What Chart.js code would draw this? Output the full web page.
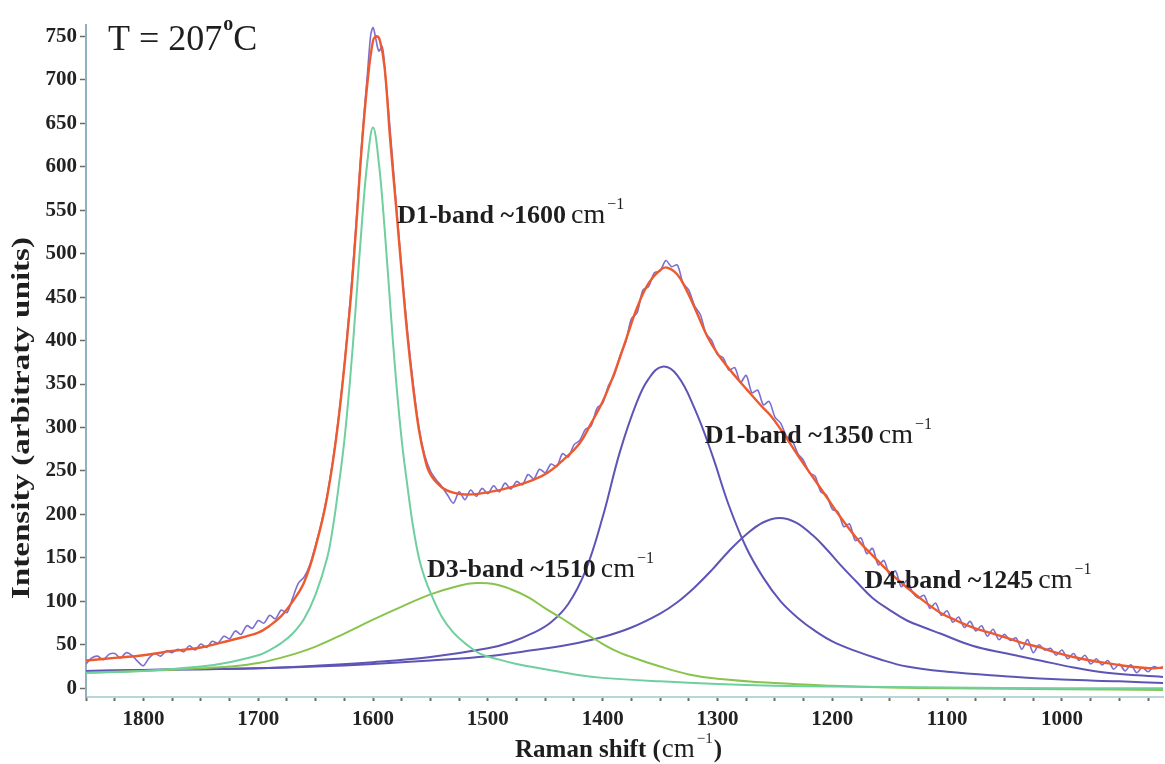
<!DOCTYPE html>
<html>
<head>
<meta charset="utf-8">
<script src="https://cdn.jsdelivr.net/npm/chart.js@4.4.1/dist/chart.umd.min.js"></script>
<style>
	body { margin: 0; background: #fff; }
	canvas { display: block; }
</style>
</head>
<body>
<canvas id="raman" width="1165" height="764"></canvas>
<script>
/* Data (Raman shift in cm-1, intensity in arbitrary units) */
var rawShift = [
	1850, 1845, 1840, 1835, 1830, 1825, 1820, 1815, 1810, 1805,
	1800, 1795, 1790, 1785, 1780, 1775, 1770, 1765, 1760, 1755,
	1750, 1745, 1740, 1735, 1730, 1725, 1720, 1715, 1710, 1705,
	1700, 1695, 1690, 1685, 1680, 1675, 1670, 1665, 1660, 1655,
	1650, 1645, 1640, 1635, 1630, 1625, 1620, 1615, 1610, 1605,
	1602, 1600, 1598, 1595, 1592, 1590, 1585, 1580, 1575, 1570,
	1565, 1560, 1555, 1550, 1545, 1540, 1535, 1530, 1525, 1520,
	1515, 1510, 1505, 1500, 1495, 1490, 1485, 1480, 1475, 1470,
	1465, 1460, 1455, 1450, 1445, 1440, 1435, 1430, 1425, 1420,
	1415, 1410, 1405, 1400, 1395, 1390, 1385, 1380, 1375, 1370,
	1365, 1360, 1355, 1350, 1345, 1340, 1335, 1330, 1325, 1320,
	1315, 1310, 1305, 1300, 1295, 1290, 1285, 1280, 1275, 1270,
	1265, 1260, 1255, 1250, 1245, 1240, 1235, 1230, 1225, 1220,
	1215, 1210, 1205, 1200, 1195, 1190, 1185, 1180, 1175, 1170,
	1165, 1160, 1155, 1150, 1145, 1140, 1135, 1130, 1125, 1120,
	1115, 1110, 1105, 1100, 1095, 1090, 1085, 1080, 1075, 1070,
	1065, 1060, 1055, 1050, 1045, 1040, 1035, 1030, 1025, 1020,
	1015, 1010, 1005, 1000, 995, 990, 985, 980, 975, 970,
	965, 960, 955, 950, 945, 940, 935, 930, 925, 920,
	915, 910
];
var rawIntensity = [
	28, 35, 37, 33, 39, 40, 35, 41, 38, 31,
	26, 35, 40, 37, 43, 41, 45, 42, 49, 44,
	51, 47, 54, 52, 60, 57, 66, 62, 72, 69,
	78, 75, 84, 80, 90, 87, 104, 121, 128, 142,
	165, 190, 222, 262, 312, 372, 445, 530, 625, 705,
	752, 760, 750, 733, 738, 716, 640, 560, 482, 410,
	350, 300, 268, 250, 240, 232, 222, 213, 226, 217,
	228, 221, 230, 224, 233, 226, 236, 229, 238, 234,
	246, 241, 252, 248, 258, 255, 270, 266, 280, 285,
	298, 302, 322, 328, 348, 360, 382, 398, 425, 432,
	458, 462, 478, 480, 492, 485, 487, 466, 458, 440,
	430, 408, 400, 384, 380, 366, 369, 352, 360, 340,
	343, 326, 330, 312, 305, 290, 285, 270, 262, 248,
	244, 226, 222, 206, 203, 186, 189, 170, 173, 155,
	161, 142, 147, 130, 135, 117, 124, 110, 104, 107,
	92, 98, 84, 89, 76, 82, 70, 77, 66, 72,
	60, 68, 56, 62, 55, 58, 45, 56, 41, 50,
	44, 46, 38, 44, 34, 40, 32, 38, 28, 34,
	27, 32, 22, 28, 20, 27, 18, 24, 19, 25,
	23, 26
];

var fitShift = [1850, 1825, 1800, 1775, 1750, 1725, 1700, 1690, 1680, 1670, 1660, 1650, 1640, 1630, 1620, 1615, 1610, 1605, 1600, 1597, 1594, 1590, 1585, 1580, 1575, 1570, 1565, 1560, 1555, 1550, 1540, 1530, 1520, 1507, 1490, 1478, 1460, 1448, 1435, 1420, 1410, 1400, 1390, 1380, 1370, 1360, 1350, 1344, 1335, 1327, 1318, 1309, 1300, 1289, 1274, 1262, 1254, 1245, 1237, 1227, 1217, 1205, 1193, 1176, 1165, 1150, 1135, 1120, 1106, 1092, 1078, 1063, 1048, 1034, 1019, 1005, 990, 975, 961, 946, 932, 920, 912];
var fitIntensity = [32, 35, 38, 43, 47, 55, 64, 72, 83, 100, 122, 163, 220, 310, 440, 525, 620, 695, 745, 750, 745, 715, 630, 555, 478, 405, 345, 297, 265, 246, 231, 225, 223, 224, 228, 232, 240, 248, 262, 282, 305, 330, 362, 400, 438, 466, 481, 484, 476, 458, 432, 405, 385, 366, 343, 325, 314, 298, 282, 262, 243, 220, 197, 168, 153, 133, 116, 100, 87, 78, 70, 64, 58, 52, 47, 41, 36, 32, 29, 26, 24, 23, 24];

/* Fitted bands */
var gShift = [1850, 1800, 1750, 1725, 1700, 1690, 1680, 1670, 1660, 1650, 1640, 1635, 1630, 1625, 1620, 1615, 1610, 1605, 1600, 1595, 1590, 1585, 1580, 1575, 1570, 1565, 1560, 1555, 1550, 1540, 1530, 1520, 1507, 1490, 1475, 1450, 1420, 1400, 1350, 1300, 1250, 1200, 1100, 1000, 912];
var gBand = [18, 20, 25, 30, 38, 44, 52, 63, 80, 108, 150, 185, 232, 285, 355, 440, 530, 605, 645, 605, 530, 440, 355, 285, 232, 185, 150, 127, 110, 82, 64, 52, 40, 33, 28, 22, 15, 12, 8, 5, 3, 2, 1, 0, 0];

var d3Shift = [1850, 1800, 1750, 1725, 1700, 1675, 1650, 1625, 1600, 1575, 1550, 1525, 1510, 1495, 1480, 1465, 1450, 1435, 1420, 1405, 1390, 1375, 1350, 1325, 1300, 1250, 1200, 1150, 1100, 1000, 912];
var d3Band = [18, 20, 23, 25, 29, 37, 48, 63, 79, 94, 108, 118, 121, 120, 114, 105, 92, 80, 67, 55, 44, 36, 25, 16, 11, 6, 3, 1, 0, -1, -2];

var d1Shift = [1850, 1800, 1750, 1700, 1650, 1600, 1550, 1500, 1480, 1460, 1445, 1430, 1415, 1400, 1385, 1370, 1360, 1348, 1335, 1320, 1305, 1290, 1275, 1260, 1245, 1230, 1215, 1200, 1180, 1160, 1135, 1100, 1050, 1000, 950, 912];
var d1Band = [20, 21, 22, 23, 26, 30, 36, 46, 53, 64, 76, 97, 135, 197, 272, 330, 356, 370, 360, 322, 270, 210, 162, 127, 100, 81, 66, 54, 43, 34, 25, 19, 14, 10, 8, 6];

var d4Shift = [1850, 1800, 1750, 1700, 1650, 1600, 1550, 1500, 1460, 1430, 1400, 1375, 1350, 1335, 1320, 1305, 1290, 1275, 1260, 1246, 1232, 1217, 1205, 1193, 1180, 1165, 1150, 1135, 1120, 1106, 1078, 1048, 1019, 990, 961, 912];
var d4Band = [20, 21, 22, 23, 25, 28, 32, 37, 44, 50, 59, 70, 86, 99, 116, 136, 158, 177, 191, 196, 191, 176, 160, 142, 124, 104, 90, 78, 70, 63, 49, 40, 32, 24, 18, 13];

var xTicks = [1850, 1825, 1800, 1775, 1750, 1725, 1700, 1675, 1650, 1625, 1600, 1575, 1550, 1525, 1500, 1475, 1450, 1425, 1400, 1375, 1350, 1325, 1300, 1275, 1250, 1225, 1200, 1175, 1150, 1125, 1100, 1075, 1050, 1025, 1000, 975, 950, 925];
var yTicks = [0, 50, 100, 150, 200, 250, 300, 350, 400, 450, 500, 550, 600, 650, 700, 750];

var bandLabels = [
	{ text: "D1-band ~1600", shift: 1579, intensity: 535 },
	{ text: "D1-band ~1350", shift: 1311, intensity: 282 },
	{ text: "D3-band ~1510", shift: 1553, intensity: 128 },
	{ text: "D4-band ~1245", shift: 1172, intensity: 115 }
];

function points(xs, ys) {
	return xs.map(function (x, i) {
		return { x: x, y: ys[i] };
	});
}

function line(data, color, width, tension) {
	return {
		data: data,
		borderColor: color,
		borderWidth: width,
		pointRadius: 0,
		fill: false,
		tension: tension
	};
}

var serif = "'Liberation Serif', 'DejaVu Serif', serif";

/* bold text followed by a boxed "cm-1" in plain type */
function unitText(ctx, bold, x, y, size, gap, tail) {
	ctx.font = "bold " + size + "px " + serif;
	ctx.textAlign = "left";
	ctx.textBaseline = "alphabetic";
	ctx.fillStyle = "#1e1e1e";
	ctx.fillText(bold, x, y);
	var cx = x + ctx.measureText(bold).width + gap;
	ctx.font = (size + 2) + "px " + serif;
	var cw = ctx.measureText("cm").width;
	ctx.font = Math.round(size * 0.6) + "px " + serif;
	var sw = ctx.measureText("\u22121").width;
	ctx.fillStyle = "#fff";
	ctx.fillRect(cx - 2, y - size - 4, cw + sw + 8, size + 10);
	ctx.fillStyle = "#1e1e1e";
	ctx.font = (size + 2) + "px " + serif;
	ctx.fillText("cm", cx, y);
	ctx.font = Math.round(size * 0.6) + "px " + serif;
	ctx.fillText("\u22121", cx + cw + 2, y - size * 0.55);
	if (tail) {
		ctx.font = "bold " + size + "px " + serif;
		ctx.fillText(tail, cx + cw + sw + 3, y);
	}
}

var textPlugin = {
	id: "texts",
	afterDraw: function (chart) {
		var ctx = chart.ctx;
		var xs = chart.scales.x;
		var ys = chart.scales.y;
		ctx.save();

		bandLabels.forEach(function (b) {
			unitText(ctx, b.text, xs.getPixelForValue(b.shift), ys.getPixelForValue(b.intensity), 26, 5);
		});

		/* temperature */
		ctx.fillStyle = "#1e1e1e";
		ctx.textAlign = "left";
		ctx.textBaseline = "alphabetic";
		ctx.font = "36px " + serif;
		ctx.fillText("T = 207", 108, 50);
		var tw = ctx.measureText("T = 207").width;
		ctx.font = "bold 20px " + serif;
		ctx.fillText("o", 108 + tw + 1, 30);
		ctx.font = "36px " + serif;
		ctx.fillText("C", 108 + tw + 11, 50);

		/* axis titles */
		unitText(ctx, "Raman shift (", 515, 757, 25, 1, ")");

		ctx.translate(23, 418);
		ctx.rotate(-Math.PI / 2);
		ctx.font = "bold 25px " + serif;
		ctx.textAlign = "center";
		ctx.textBaseline = "middle";
		ctx.fillStyle = "#1e1e1e";
		var title = "Intensity (arbitraty units)";
		ctx.scale(362 / ctx.measureText(title).width, 1);
		ctx.fillText(title, 0, 0);
		ctx.restore();
	}
};

var ctxRaman = document.getElementById("raman");

var ramanChart = new Chart(ctxRaman, {
	type: "line",
	data: {
		datasets: [
			line(points(fitShift, fitIntensity), "#ee5a2f", 2.4, 0.4),
			line(points(rawShift, rawIntensity), "#7b6fd0", 1.6, 0.3),
			line(points(gShift, gBand), "#6fcf9e", 2, 0.4),
			line(points(d3Shift, d3Band), "#88c44c", 2, 0.4),
			line(points(d1Shift, d1Band), "#5d55b5", 2, 0.4),
			line(points(d4Shift, d4Band), "#5d55b5", 2, 0.4)
		]
	},
	options: {
		responsive: false,
		animation: false,
		layout: { padding: { top: 25, right: 2, left: 0, bottom: 0 } },
		plugins: {
			legend: { display: false },
			tooltip: { enabled: false }
		},
		scales: {
			x: {
				type: "linear",
				reverse: true,
				min: 912,
				max: 1850,
				afterBuildTicks: function (axis) {
					axis.ticks = xTicks.map(function (v) { return { value: v }; });
				},
				afterFit: function (axis) {
					axis.height = 67;
				},
				grid: {
					drawOnChartArea: false,
					tickLength: 4,
					tickWidth: 2,
					color: "#6b6b6b"
				},
				border: { color: "#b9d6d6", width: 2 },
				ticks: {
					autoSkip: false,
					maxRotation: 0,
					padding: 6,
					color: "#222",
					font: { family: serif, size: 21, weight: "bold" },
					callback: function (v) {
						return v % 100 === 0 ? v : "";
					}
				}
			},
			y: {
				min: -10,
				max: 763,
				afterBuildTicks: function (axis) {
					axis.ticks = yTicks.map(function (v) { return { value: v }; });
				},
				afterFit: function (axis) {
					axis.width = 86;
				},
				grid: {
					drawOnChartArea: false,
					tickLength: 6,
					tickWidth: 1.5,
					color: "#6b6b6b"
				},
				border: { color: "#8fb0bc", width: 2, dash: [2, 3] },
				ticks: {
					padding: 3,
					color: "#222",
					font: { family: serif, size: 21, weight: "bold" }
				}
			}
		}
	},
	plugins: [textPlugin]
});
</script>
</body>
</html>
